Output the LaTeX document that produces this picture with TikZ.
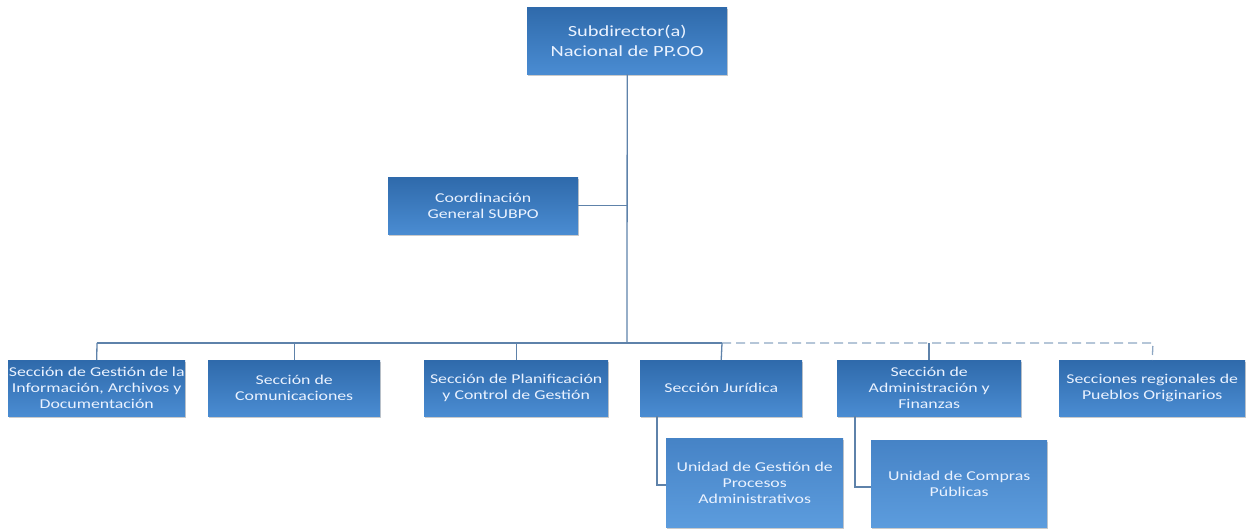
\documentclass[tikz,border=0pt]{standalone}
\usepackage{fontspec}
\setmainfont{Carlito}[FakeStretch=1.32]
\usetikzlibrary{shadows}
\definecolor{boxtop}{HTML}{2F6AAB}
\definecolor{boxbot}{HTML}{4A8CD2}
\definecolor{subtop}{HTML}{4683C6}
\definecolor{subbot}{HTML}{5C9CDD}
\definecolor{linec}{HTML}{5E82AA}
\definecolor{txt}{HTML}{EAF2FF}
\tikzset{
  x=1pt,y=-1pt,
  orgbox/.style={draw=none, top color=boxtop, bottom color=boxbot, text=txt,
    align=center, inner sep=0pt, anchor=north west, font=\fontsize{13.5}{16}\selectfont,
    drop shadow={shadow xshift=1pt, shadow yshift=-2pt, opacity=0.35, fill=black!60}},
  subbox/.style={orgbox, top color=subtop, bottom color=subbot},
  conn/.style={draw=linec, line width=1.3pt},
  dconn/.style={conn, dashed, dash pattern=on 9pt off 5pt, draw=linec!70},
}
\begin{document}
\begin{tikzpicture}
\useasboundingbox (0,0) rectangle (1249,529);
% boxes
\node[orgbox, minimum width=200pt, minimum height=67pt, font=\fontsize{15.5}{20}\selectfont] (top) at (527,7) {Subdirector(a)\\Nacional de PP.OO};
\node[orgbox, minimum width=190pt, minimum height=57pt] (coord) at (388,177) {Coordinación\\General SUBPO};
\node[orgbox, minimum width=177pt, minimum height=56pt] (b1) at (8,360) {Sección de Gestión de la\\Información, Archivos y\\Documentación};
\node[orgbox, minimum width=172pt, minimum height=56pt] (b2) at (208,360) {Sección de\\Comunicaciones};
\node[orgbox, minimum width=184pt, minimum height=56pt] (b3) at (424,360) {Sección de Planificación\\y Control de Gestión};
\node[orgbox, minimum width=162pt, minimum height=56pt] (b4) at (640,360) {Sección Jurídica};
\node[orgbox, minimum width=184pt, minimum height=56pt] (b5) at (837,360) {Sección de\\Administración y\\Finanzas};
\node[orgbox, minimum width=186pt, minimum height=56pt] (b6) at (1059,360) {Secciones regionales de\\Pueblos Originarios};
\node[subbox, minimum width=177pt, minimum height=89pt] (u1) at (666,438) {Unidad de Gestión de\\Procesos\\Administrativos};
\node[subbox, minimum width=176pt, minimum height=87pt] (u2) at (871,440) {Unidad de Compras\\Públicas};
% connectors
\coordinate (bus) at (627,343);
\coordinate (busL) at (97,343);
\coordinate (busJ) at (722,343);
\coordinate (busR) at (1153,343);
\draw[conn] (top.south) -- (bus);
\draw[conn] (coord.east) -- (coord.east -| top.south);
\draw[conn] (busL) -- (busJ);
\draw[dconn] (busJ) -- (busR) -- (b6.north);
\draw[conn] (busL) -- (b1.north);
\draw[conn] (b2.north |- bus) -- (b2.north);
\draw[conn] (b3.north |- bus) -- (b3.north);
\draw[conn] (busJ) -- (b4.north);
\draw[conn] (929,343) -- (929,360);
\coordinate (jx) at (657,416);
\coordinate (ax) at (855,416);
\draw[conn] (jx) |- (u1.west |- 0,485);
\draw[conn] (ax) |- (u2.west |- 0,487);
\end{tikzpicture}
\end{document}
